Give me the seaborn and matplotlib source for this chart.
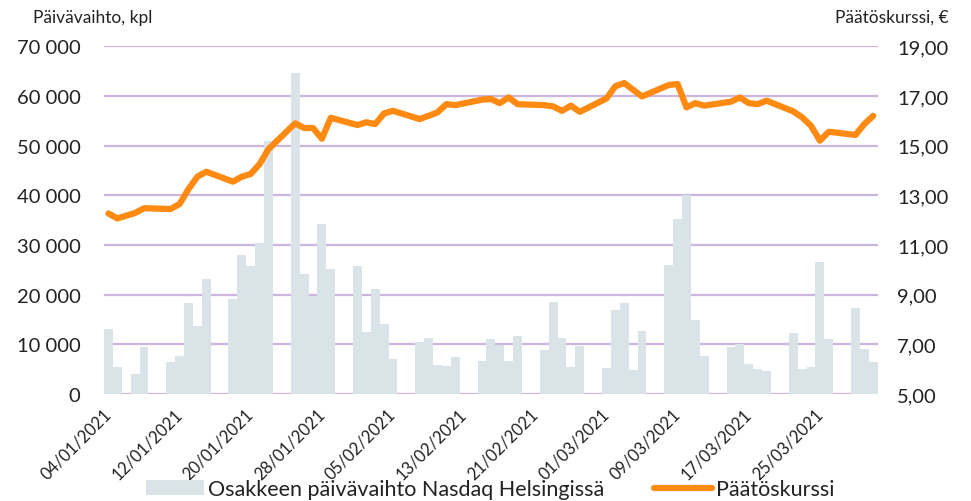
import matplotlib
matplotlib.use("Agg")
import matplotlib.pyplot as plt
import matplotlib.ticker as mticker
import seaborn as sns
import pandas as pd
import numpy as np

# trading days (Jan 6 is a holiday in Finland)
jan_days = [4, 5, 7, 8, 11, 12, 13, 14, 15, 18, 19, 20, 21, 22, 25, 26, 27, 28, 29]
feb_days = [1, 2, 3, 4, 5, 8, 9, 10, 11, 12, 15, 16, 17, 18, 19, 22, 23, 24, 25, 26]
mar_days = [1, 2, 3, 4, 5, 8, 9, 10, 11, 12, 15, 16, 17, 18, 19, 22, 23, 24, 25, 26, 29, 30, 31]

volume = [13000, 5500, 4000, 9400, 6500, 7700, 18400, 13700, 23100, 19100,
          28000, 25700, 30500, 51000, 64700, 24100, 19800, 34200, 25100,
          25700, 12400, 21100, 14100, 7000, 10400, 11200, 5900, 5700, 7400,
          6700, 11100, 9900, 6600, 11600, 8800, 18600, 11200, 5400, 9700,
          5200, 17000, 18300, 4900, 12700, 26000, 35200, 40100, 15000, 7600,
          9400, 10000, 6000, 5000, 4700, 12200, 5000, 5400, 26500, 11100,
          17300, 9100, 6400]

close = [12.27, 12.07, 12.29, 12.48, 12.45, 12.65, 13.25, 13.75, 13.95, 13.55,
         13.75, 13.86, 14.26, 14.86, 15.90, 15.71, 15.71, 15.28, 16.12,
         15.83, 15.94, 15.87, 16.30, 16.40, 16.07, 16.20, 16.34, 16.67, 16.63,
         16.85, 16.88, 16.71, 16.94, 16.67, 16.63, 16.58, 16.40, 16.61, 16.36,
         16.90, 17.39, 17.52, 17.25, 16.98, 17.44, 17.48, 16.54, 16.71, 16.61,
         16.77, 16.94, 16.71, 16.67, 16.81, 16.38, 16.14, 15.80, 15.20, 15.56,
         15.43, 15.87, 16.20]

tick_dates = ["04/01/2021", "12/01/2021", "20/01/2021", "28/01/2021", "05/02/2021",
              "13/02/2021", "21/02/2021", "01/03/2021", "09/03/2021", "17/03/2021",
              "25/03/2021"]

dates = ([pd.Timestamp(2021, 1, d) for d in jan_days]
         + [pd.Timestamp(2021, 2, d) for d in feb_days]
         + [pd.Timestamp(2021, 3, d) for d in mar_days])
start = pd.Timestamp(2021, 1, 4)
end = pd.Timestamp(2021, 3, 31)

df = pd.DataFrame({"date": dates, "volume": volume, "close": close})
df["day"] = (df["date"] - start).dt.days + 0.5

BAR = "#dae3e8"
ORANGE = "#ff8a12"
GRID = "#cdb6de"
TXT = "#222222"

sns.set_style("white")
plt.rcParams["font.family"] = ["Lato", "DejaVu Sans"]

fig = plt.figure(figsize=(9.71, 5.02), dpi=100)
ax = fig.add_axes([0.1071, 0.2131, 0.7968, 0.6927])

sns.barplot(data=df, x="day", y="volume", native_scale=True, width=1.0,
            color=BAR, saturation=1, linewidth=0, ax=ax,
            label="Osakkeen päivävaihto Nasdaq Helsingissä")
ax.set_xlim(0, (end - start).days + 1)
ax.set_ylim(0, 70000)
ax.yaxis.set_major_locator(mticker.MultipleLocator(10000))
ax.yaxis.set_major_formatter(mticker.FuncFormatter(
    lambda v, p: f"{int(v):,}".replace(",", " ")))
ax.grid(axis="y", color=GRID, lw=1.6)
ax.set_axisbelow(True)
for s in ax.spines.values():
    s.set_visible(False)

tick_pos = [(pd.to_datetime(t, dayfirst=True) - start).days + 0.5 for t in tick_dates]
ax.set_xticks(tick_pos)
ax.set_xticklabels(tick_dates, rotation=45, ha="right", va="center",
                   rotation_mode="anchor", fontsize=12, color=TXT)
ax.tick_params(axis="x", length=0, pad=12)
ax.tick_params(axis="y", length=0, pad=17, labelsize=14.5, labelcolor=TXT)
ax.set_xlabel("")
ax.set_ylabel("")

ax2 = ax.twinx()
sns.lineplot(data=df, x="day", y="close", color=ORANGE, lw=4.5, ax=ax2,
             label="Päätöskurssi", solid_joinstyle="round", solid_capstyle="round")
ax2.set_ylim(5, 19)
ax2.yaxis.set_major_locator(mticker.FixedLocator(np.arange(5, 20, 2)))
ax2.yaxis.set_major_formatter(mticker.FuncFormatter(
    lambda v, p: f"{v:.2f}".replace(".", ",")))
ax2.tick_params(axis="y", length=0, pad=14, labelsize=14.5, labelcolor=TXT)
ax2.set_ylabel("")
ax2.set_xlabel("")
ax2.grid(False)
for s in ax2.spines.values():
    s.set_visible(False)
if ax2.get_legend() is not None:
    ax2.get_legend().remove()
if ax.get_legend() is not None:
    ax.get_legend().remove()

fig.text(0.034, 0.965, "Päivävaihto, kpl", fontsize=12.5, color=TXT, va="center")
fig.text(0.977, 0.965, "Päätöskurssi, €", fontsize=12.5, color=TXT, va="center", ha="right")

h1, l1 = ax.get_legend_handles_labels()
h2, l2 = ax2.get_legend_handles_labels()
fig.legend(h1 + h2, l1 + l2, loc="lower center", bbox_to_anchor=(0.505, -0.035),
           ncol=2, frameon=False, fontsize=15.5, handlelength=2.7,
           handletextpad=0.2, columnspacing=2.3, labelcolor=TXT)

fig.savefig("out.png", dpi=100)
